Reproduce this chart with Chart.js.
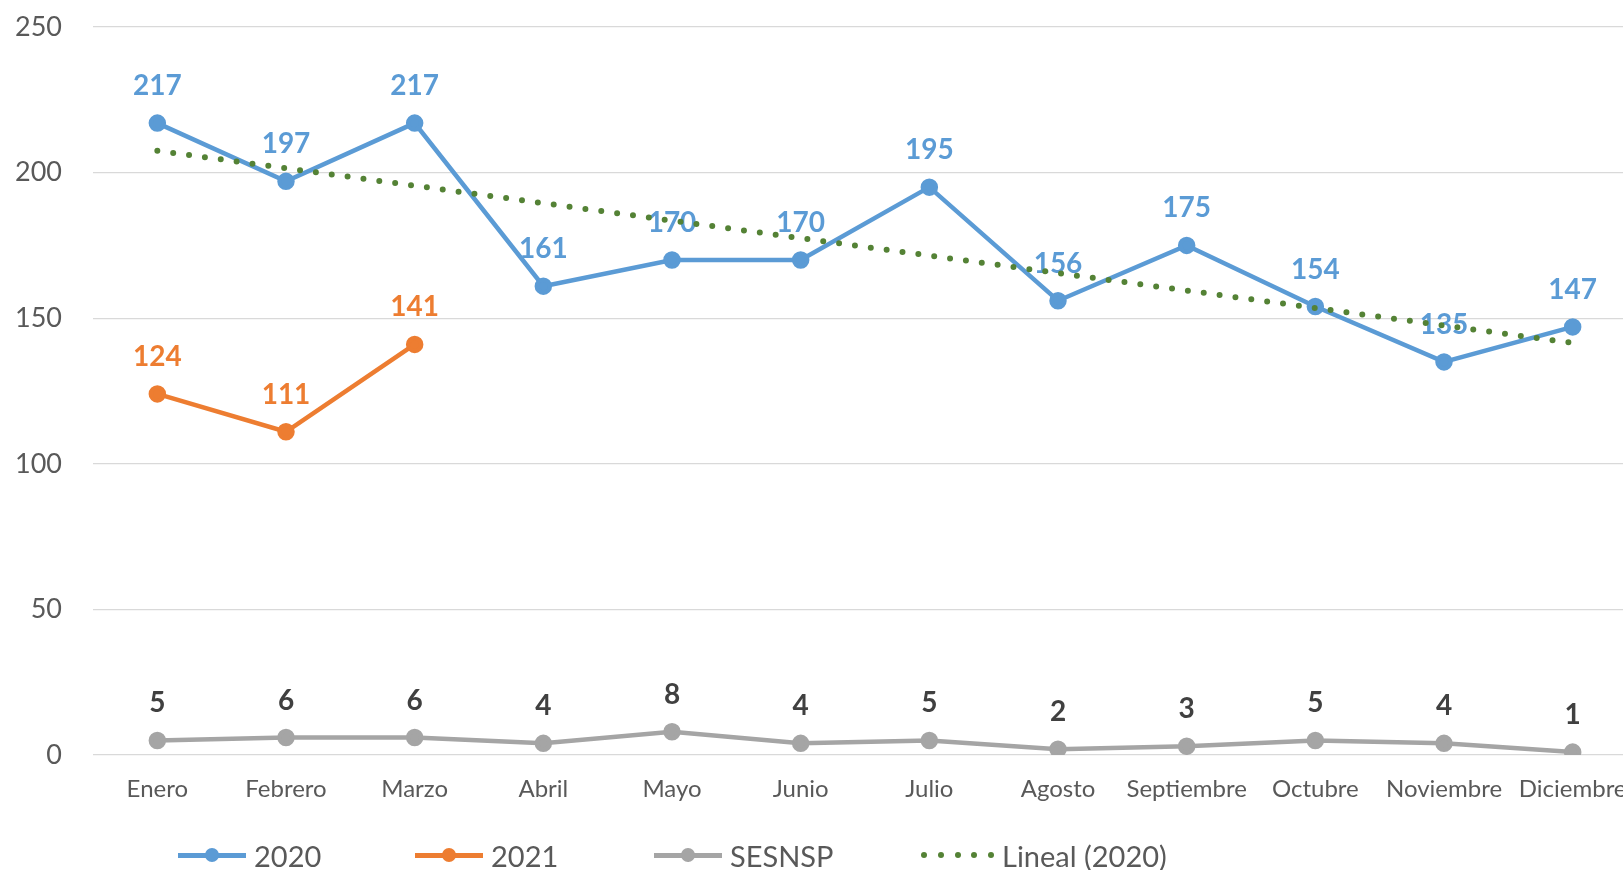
<!DOCTYPE html>
<html>
<head>
<meta charset="utf-8">
<script src="https://cdn.jsdelivr.net/npm/chart.js@4/dist/chart.umd.min.js"></script>
<style>
  html, body { margin: 0; padding: 0; background: #fff; overflow: hidden; width: 1623px; height: 870px; }
  #wrap { position: relative; width: 1648px; height: 870px; }
  #c { position: absolute; left: 0; top: 0; }
  .leg { position: absolute; top: 835px; height: 40px; display: flex; align-items: center; font-family: Lato, sans-serif; font-size: 29px; color: #595959; white-space: nowrap; }
  .ln { position: relative; width: 68px; height: 5px; margin-right: 8px; }
  .ln .dot { position: absolute; left: 27px; top: -5px; width: 14px; height: 14px; border-radius: 50%; }
  .dots { display: flex; width: 73px; justify-content: space-between; margin-right: 8px; }
  .dots span { width: 6px; height: 6px; border-radius: 50%; background: #548235; }
</style>
</head>
<body>
<div id="wrap">
  <canvas id="c" width="1648" height="870"></canvas>
  <div class="leg" style="left:178px"><div class="ln" style="background:#5B9BD5"><div class="dot" style="background:#5B9BD5"></div></div><span id="l0"></span></div>
  <div class="leg" style="left:415px"><div class="ln" style="background:#ED7D31"><div class="dot" style="background:#ED7D31"></div></div><span id="l1"></span></div>
  <div class="leg" style="left:654px"><div class="ln" style="background:#A5A5A5"><div class="dot" style="background:#A5A5A5"></div></div><span id="l2"></span></div>
  <div class="leg" style="left:921px"><div class="dots"><span></span><span></span><span></span><span></span><span></span></div><span id="l3"></span></div>
</div>
<script>
const months = ["Enero","Febrero","Marzo","Abril","Mayo","Junio","Julio","Agosto","Septiembre","Octubre","Noviembre","Diciembre"];
const seriesNames = ["2020","2021","SESNSP","Lineal (2020)"];
const values2020 = [217,197,217,161,170,170,195,156,175,154,135,147];
const values2021 = [124,111,141,null,null,null,null,null,null,null,null,null];
const valuesSESNSP = [5,6,6,4,8,4,5,2,3,5,4,1];
const trend2020 = [207.5,201.5,195.5,189.5,183.5,177.5,171.5,165.5,159.5,153.5,147.5,141.5];
const yTicks = [0,50,100,150,200,250];

seriesNames.forEach((n,i)=>{ document.getElementById('l'+i).textContent = n; });

const labelPlugin = {
  id: 'valueLabels',
  afterDatasetDraw(chart, args) {
    const ds = chart.data.datasets[args.index];
    if (!ds.labelColor) return;
    const ctx = chart.ctx;
    ctx.save();
    ctx.font = 'bold 28px Lato, sans-serif';
    ctx.fillStyle = ds.labelColor;
    ctx.textAlign = 'center';
    ctx.textBaseline = 'middle';
    args.meta.data.forEach((pt, i) => {
      const v = ds.data[i];
      if (v === null || v === undefined) return;
      ctx.fillText(String(v), pt.x, pt.y - 37);
    });
    ctx.restore();
  }
};

const common = { borderWidth: 4.5, pointRadius: 6.5, pointHoverRadius: 6.5, tension: 0, fill: false, spanGaps: false };

new Chart(document.getElementById('c'), {
  type: 'line',
  data: {
    labels: months,
    datasets: [
      Object.assign({ label: seriesNames[0], data: values2020, borderColor: '#5B9BD5', backgroundColor: '#5B9BD5', pointBackgroundColor: '#5B9BD5', pointBorderColor: '#5B9BD5', labelColor: '#5B9BD5', order: 3 }, common),
      Object.assign({ label: seriesNames[1], data: values2021, borderColor: '#ED7D31', backgroundColor: '#ED7D31', pointBackgroundColor: '#ED7D31', pointBorderColor: '#ED7D31', labelColor: '#ED7D31', order: 2 }, common),
      Object.assign({ label: seriesNames[2], data: valuesSESNSP, borderColor: '#A5A5A5', backgroundColor: '#A5A5A5', pointBackgroundColor: '#A5A5A5', pointBorderColor: '#A5A5A5', labelColor: '#404040', order: 1 }, common),
      { label: seriesNames[3], data: trend2020, borderColor: '#548235', borderWidth: 6, borderDash: [0, 16], borderCapStyle: 'round', pointRadius: 0, pointHoverRadius: 0, tension: 0, fill: false, order: 0 }
    ]
  },
  options: {
    responsive: false,
    animation: false,
    events: [],
    layout: { padding: { top: 27, right: 5, left: 0, bottom: 0 } },
    plugins: { legend: { display: false }, tooltip: { enabled: false } },
    scales: {
      x: {
        offset: true,
        grid: { display: false, drawTicks: false },
        border: { display: false },
        ticks: { color: '#595959', font: { family: 'Lato', size: 24 }, padding: 20, maxRotation: 0, autoSkip: false },
        afterFit: s => { s.height = 115; }
      },
      y: {
        min: 0, max: 250,
        afterBuildTicks: s => { s.ticks = yTicks.map(v => ({ value: v })); },
        grid: { color: '#D9D9D9', lineWidth: 1.3, drawTicks: true, tickLength: 28, tickColor: 'rgba(0,0,0,0)' },
        border: { display: false },
        ticks: { color: '#595959', font: { family: 'Lato', size: 27 }, padding: 3 },
        afterFit: s => { s.width = 93; }
      }
    }
  },
  plugins: [labelPlugin]
});
</script>
</body>
</html>
